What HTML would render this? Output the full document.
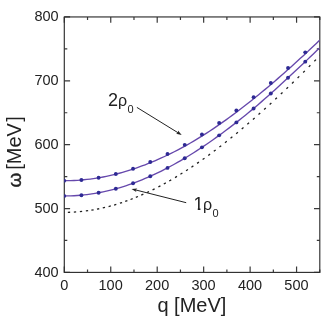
<!DOCTYPE html><html><head><meta charset="utf-8"><style>html,body{margin:0;padding:0;background:#fff}</style></head><body><svg width="327" height="325" viewBox="0 0 327 325" style="display:block;will-change:transform;opacity:0.999"><rect width="327" height="325" fill="#fff"/><path d="M64.30 272.40V266.60 M64.30 16.95V22.75 M87.53 272.40V269.40 M87.53 16.95V19.95 M110.75 272.40V266.60 M110.75 16.95V22.75 M133.98 272.40V269.40 M133.98 16.95V19.95 M157.21 272.40V266.60 M157.21 16.95V22.75 M180.44 272.40V269.40 M180.44 16.95V19.95 M203.66 272.40V266.60 M203.66 16.95V22.75 M226.89 272.40V269.40 M226.89 16.95V19.95 M250.12 272.40V266.60 M250.12 16.95V22.75 M273.35 272.40V269.40 M273.35 16.95V19.95 M296.57 272.40V266.60 M296.57 16.95V22.75 M319.80 272.40V269.40 M319.80 16.95V19.95 M64.30 272.40H70.10 M319.80 272.40H314.00 M64.30 240.47H67.30 M319.80 240.47H316.80 M64.30 208.54H70.10 M319.80 208.54H314.00 M64.30 176.61H67.30 M319.80 176.61H316.80 M64.30 144.67H70.10 M319.80 144.67H314.00 M64.30 112.74H67.30 M319.80 112.74H316.80 M64.30 80.81H70.10 M319.80 80.81H314.00 M64.30 48.88H67.30 M319.80 48.88H316.80 M64.30 16.95H70.10 M319.80 16.95H314.00" stroke="#3a3a3a" stroke-width="1.2" fill="none"/><rect x="64.30" y="16.95" width="255.50" height="255.45" fill="none" stroke="#2e2e2e" stroke-width="1.15"/><clipPath id="c"><rect x="64.30" y="16.95" width="255.50" height="255.45"/></clipPath><g clip-path="url(#c)"><path d="M61.95 212.36L64.25 212.37 M67.85 212.34L70.15 212.27 M73.85 212.10L76.15 211.95 M79.86 211.65L82.14 211.42 M85.86 210.98L88.14 210.68 M91.37 210.19L93.63 209.81 M96.97 209.19L99.23 208.74 M102.78 207.97L105.02 207.44 M108.59 206.55L110.81 205.96 M114.10 205.03L116.30 204.37 M119.91 203.24L122.09 202.52 M125.22 201.45L127.38 200.67 M130.53 199.50L132.67 198.67 M135.84 197.40L137.96 196.52 M141.25 195.11L143.35 194.18 M146.96 192.53L149.04 191.55 M152.57 189.84L154.63 188.81 M158.38 186.89L160.42 185.82 M163.79 184.00L165.81 182.89 M169.20 180.97L171.20 179.82 M175.01 177.58L176.99 176.39 M180.42 174.28L182.38 173.06 M186.03 170.73L187.97 169.48 M191.44 167.19L193.36 165.91 M197.03 163.40L198.93 162.09 M202.62 159.49L204.50 158.16 M208.21 155.47L210.07 154.11 M213.80 151.33L215.64 149.95 M219.39 147.08L221.21 145.68 M224.98 142.73L226.78 141.30 M230.57 138.27L232.35 136.82 M236.15 133.71L237.93 132.25 M241.74 129.06L243.50 127.58 M247.33 124.32L249.07 122.82 M252.91 119.49L254.65 117.97 M258.50 114.57L260.22 113.04 M264.09 109.57L265.79 108.02 M269.67 104.48L271.37 102.93 M275.26 99.32L276.94 97.76 M280.84 94.09L282.52 92.51 M286.43 88.79L288.09 87.19 M292.01 83.41L293.67 81.81 M297.60 77.97L299.24 76.36 M303.18 72.47L304.82 70.85 M308.77 66.90L310.39 65.27 M314.35 61.27L315.97 59.63 M319.94 55.59L321.54 53.94" stroke="#222" stroke-width="1.3" fill="none"/><path d="M64.30 180.71 L67.53 180.69 L70.77 180.61 L74.00 180.48 L77.24 180.30 L80.47 180.06 L83.71 179.78 L86.94 179.44 L90.17 179.05 L93.41 178.60 L96.64 178.11 L99.88 177.56 L103.11 176.97 L106.34 176.32 L109.58 175.63 L112.81 174.88 L116.05 174.08 L119.28 173.24 L122.52 172.34 L125.75 171.40 L128.98 170.41 L132.22 169.37 L135.45 168.29 L138.69 167.16 L141.92 165.98 L145.15 164.76 L148.39 163.49 L151.62 162.18 L154.86 160.83 L158.09 159.42 L161.33 157.98 L164.56 156.49 L167.79 154.95 L171.03 153.37 L174.26 151.75 L177.50 150.08 L180.73 148.37 L183.96 146.61 L187.20 144.81 L190.43 142.97 L193.67 141.07 L196.90 139.14 L200.14 137.16 L203.37 135.14 L206.60 133.08 L209.84 130.97 L213.07 128.82 L216.31 126.64 L219.54 124.41 L222.77 122.14 L226.01 119.84 L229.24 117.50 L232.48 115.12 L235.71 112.71 L238.95 110.27 L242.18 107.80 L245.41 105.29 L248.65 102.75 L251.88 100.18 L255.12 97.58 L258.35 94.96 L261.58 92.30 L264.82 89.62 L268.05 86.91 L271.29 84.17 L274.52 81.41 L277.76 78.62 L280.99 75.80 L284.22 72.96 L287.46 70.09 L290.69 67.20 L293.93 64.28 L297.16 61.34 L300.39 58.37 L303.63 55.38 L306.86 52.37 L310.10 49.33 L313.33 46.27 L316.57 43.19 L319.80 40.08" stroke="#6648ac" stroke-width="1.35" fill="none"/><path d="M64.30 195.97 L67.53 195.94 L70.77 195.86 L74.00 195.72 L77.24 195.52 L80.47 195.26 L83.71 194.95 L86.94 194.58 L90.17 194.15 L93.41 193.66 L96.64 193.12 L99.88 192.53 L103.11 191.88 L106.34 191.17 L109.58 190.40 L112.81 189.59 L116.05 188.71 L119.28 187.79 L122.52 186.81 L125.75 185.77 L128.98 184.69 L132.22 183.55 L135.45 182.36 L138.69 181.12 L141.92 179.82 L145.15 178.48 L148.39 177.09 L151.62 175.65 L154.86 174.16 L158.09 172.62 L161.33 171.03 L164.56 169.40 L167.79 167.72 L171.03 166.00 L174.26 164.23 L177.50 162.42 L180.73 160.56 L183.96 158.66 L187.20 156.72 L190.43 154.73 L193.67 152.71 L196.90 150.64 L200.14 148.53 L203.37 146.39 L206.60 144.20 L209.84 141.98 L213.07 139.72 L216.31 137.42 L219.54 135.09 L222.77 132.72 L226.01 130.32 L229.24 127.88 L232.48 125.41 L235.71 122.90 L238.95 120.36 L242.18 117.79 L245.41 115.18 L248.65 112.54 L251.88 109.87 L255.12 107.16 L258.35 104.41 L261.58 101.63 L264.82 98.82 L268.05 95.97 L271.29 93.08 L274.52 90.17 L277.76 87.23 L280.99 84.26 L284.22 81.28 L287.46 78.28 L290.69 75.28 L293.93 72.26 L297.16 69.24 L300.39 66.22 L303.63 63.18 L306.86 60.13 L310.10 57.06 L313.33 53.97 L316.57 50.86 L319.80 47.72" stroke="#6648ac" stroke-width="1.35" fill="none"/><circle cx="64.18" cy="180.79" r="1.95" fill="#2e2a94"/><circle cx="64.18" cy="195.97" r="1.95" fill="#2e2a94"/><circle cx="81.40" cy="180.04" r="1.95" fill="#2e2a94"/><circle cx="81.40" cy="195.18" r="1.95" fill="#2e2a94"/><circle cx="98.62" cy="177.75" r="1.95" fill="#2e2a94"/><circle cx="98.62" cy="192.77" r="1.95" fill="#2e2a94"/><circle cx="115.84" cy="173.96" r="1.95" fill="#2e2a94"/><circle cx="115.84" cy="188.77" r="1.95" fill="#2e2a94"/><circle cx="133.06" cy="168.70" r="1.95" fill="#2e2a94"/><circle cx="133.06" cy="183.24" r="1.95" fill="#2e2a94"/><circle cx="150.28" cy="162.05" r="1.95" fill="#2e2a94"/><circle cx="150.28" cy="176.25" r="1.95" fill="#2e2a94"/><circle cx="167.50" cy="154.07" r="1.95" fill="#2e2a94"/><circle cx="167.50" cy="167.88" r="1.95" fill="#2e2a94"/><circle cx="184.72" cy="144.84" r="1.95" fill="#2e2a94"/><circle cx="184.72" cy="158.21" r="1.95" fill="#2e2a94"/><circle cx="201.94" cy="134.45" r="1.95" fill="#2e2a94"/><circle cx="201.94" cy="147.34" r="1.95" fill="#2e2a94"/><circle cx="219.16" cy="122.98" r="1.95" fill="#2e2a94"/><circle cx="219.16" cy="135.37" r="1.95" fill="#2e2a94"/><circle cx="236.38" cy="110.51" r="1.95" fill="#2e2a94"/><circle cx="236.38" cy="122.38" r="1.95" fill="#2e2a94"/><circle cx="253.60" cy="97.14" r="1.95" fill="#2e2a94"/><circle cx="253.60" cy="108.43" r="1.95" fill="#2e2a94"/><circle cx="270.82" cy="82.95" r="1.95" fill="#2e2a94"/><circle cx="270.82" cy="93.50" r="1.95" fill="#2e2a94"/><circle cx="288.04" cy="67.99" r="1.95" fill="#2e2a94"/><circle cx="288.04" cy="77.74" r="1.95" fill="#2e2a94"/><circle cx="305.26" cy="52.35" r="1.95" fill="#2e2a94"/><circle cx="305.26" cy="61.64" r="1.95" fill="#2e2a94"/></g><path d="M136.90 107.40L178.04 132.74" stroke="#222" stroke-width="1.0" fill="none"/><path d="M181.70 135.00L176.02 133.73L178.04 132.74L178.01 130.50Z" fill="#222"/><path d="M186.20 202.70L135.67 189.95" stroke="#222" stroke-width="1.0" fill="none"/><path d="M131.50 188.90L137.30 188.40L135.67 189.95L136.37 192.09Z" fill="#222"/><text x="64.20" y="290.0" font-size="14.5" text-anchor="middle" font-family="Liberation Sans, sans-serif" fill="#222">0</text><text x="110.65" y="290.0" font-size="14.5" text-anchor="middle" font-family="Liberation Sans, sans-serif" fill="#222">100</text><text x="157.11" y="290.0" font-size="14.5" text-anchor="middle" font-family="Liberation Sans, sans-serif" fill="#222">200</text><text x="203.56" y="290.0" font-size="14.5" text-anchor="middle" font-family="Liberation Sans, sans-serif" fill="#222">300</text><text x="250.02" y="290.0" font-size="14.5" text-anchor="middle" font-family="Liberation Sans, sans-serif" fill="#222">400</text><text x="296.47" y="290.0" font-size="14.5" text-anchor="middle" font-family="Liberation Sans, sans-serif" fill="#222">500</text><text x="58.65" y="276.60" font-size="14.5" text-anchor="end" font-family="Liberation Sans, sans-serif" fill="#222">400</text><text x="58.65" y="212.74" font-size="14.5" text-anchor="end" font-family="Liberation Sans, sans-serif" fill="#222">500</text><text x="58.65" y="148.87" font-size="14.5" text-anchor="end" font-family="Liberation Sans, sans-serif" fill="#222">600</text><text x="58.65" y="85.01" font-size="14.5" text-anchor="end" font-family="Liberation Sans, sans-serif" fill="#222">700</text><text x="58.65" y="21.15" font-size="14.5" text-anchor="end" font-family="Liberation Sans, sans-serif" fill="#222">800</text><text x="157.4" y="311.6" font-size="20" font-family="Liberation Sans, sans-serif" fill="#222">q [MeV]</text><text transform="translate(20.5 187.6) rotate(-90)" font-size="19" stroke="#222" stroke-width="0.4" font-family="Liberation Sans, sans-serif" fill="#222">ω</text><text transform="translate(20.5 169.8) rotate(-90)" font-size="20" font-family="Liberation Sans, sans-serif" fill="#222">[MeV</text><text transform="translate(20.5 121.8) rotate(-90)" font-size="20" font-family="Liberation Sans, sans-serif" fill="#222">]</text><text x="108.0" y="105.9" font-size="18" font-family="Liberation Sans, sans-serif" fill="#222">2</text><text x="118.1" y="105.6" font-size="16" font-family="Liberation Sans, sans-serif" fill="#222">ρ</text><text x="127.5" y="112.95" font-size="11" font-family="Liberation Sans, sans-serif" fill="#222">0</text><text x="193.6" y="209.8" font-size="18" font-family="Liberation Sans, sans-serif" fill="#222">1</text><rect x="194" y="207.3" width="3.75" height="3.2" fill="#fff"/><rect x="200.45" y="207.3" width="2.8" height="3.2" fill="#fff"/><text x="203.1" y="209.8" font-size="16" font-family="Liberation Sans, sans-serif" fill="#222">ρ</text><text x="212.4" y="217.2" font-size="11" font-family="Liberation Sans, sans-serif" fill="#222">0</text></svg></body></html>
